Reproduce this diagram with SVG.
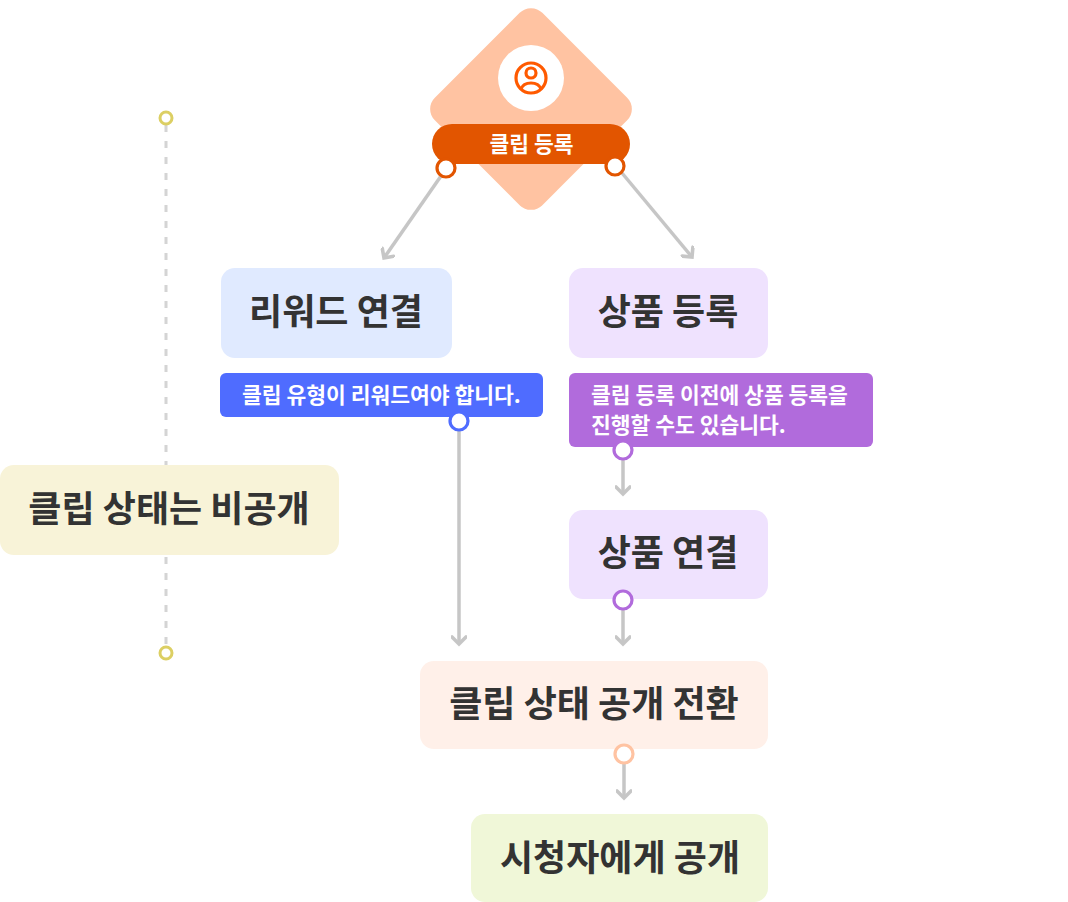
<svg xmlns="http://www.w3.org/2000/svg" width="1068" height="902" viewBox="0 0 1068 902">
<style>
text{font-family:"Noto Sans CJK KR","Noto Sans",sans-serif;}
.big{font-size:36px;font-weight:700;fill:#333333;text-anchor:middle;}
.small{font-size:21.5px;font-weight:700;fill:#ffffff;}
.line{fill:none;stroke:#c6c6c6;stroke-width:3.5;}
.dash{fill:none;stroke:#d4d4d4;stroke-width:3;stroke-dasharray:7 9;}
.dot{fill:#ffffff;stroke-width:3.2;}
</style>
<defs>
<marker id="arrow" markerUnits="userSpaceOnUse" markerWidth="20" markerHeight="16" refX="15" refY="8" orient="auto">
<path d="M8 1L15 8L8 15" fill="none" stroke="#c6c6c6" stroke-width="3.6" stroke-linecap="round"/>
</marker>
</defs>
<g id="connectors">
<path class="dash" d="M166 125V646"/>
<path class="line" marker-end="url(#arrow)" d="M441 176L384 258"/>
<path class="line" marker-end="url(#arrow)" d="M622 173L692 257"/>
<path class="line" marker-end="url(#arrow)" d="M459 431V644"/>
<path class="line" marker-end="url(#arrow)" d="M623 460V494"/>
<path class="line" marker-end="url(#arrow)" d="M623 610V644"/>
<path class="line" marker-end="url(#arrow)" d="M624 764V798"/>
</g>
<g id="start">
<rect x="455" y="33" width="152" height="152" rx="16" transform="rotate(45 531 109)" fill="#ffc3a2"/>
<circle cx="531" cy="78" r="33" fill="#ffffff"/>
<g fill="none" stroke="#ff5a00" stroke-width="3.2">
<circle cx="531" cy="78" r="15"/>
<circle cx="531" cy="73" r="5"/>
<path d="M521 89C524 81 538 81 541 89"/>
</g>
<rect x="432" y="124" width="198" height="40" rx="20" fill="#e25500"/>
<text class="small" x="531.5" y="152" text-anchor="middle">클립 등록</text>
<circle class="dot" stroke="#e25500" cx="446" cy="168" r="9"/>
<circle class="dot" stroke="#e25500" cx="615" cy="166" r="9"/>
</g>
<g id="reward">
<rect x="221" y="268" width="231" height="90" rx="14" fill="#e0eaff"/>
<text class="big" x="336" y="325">리워드 연결</text>
</g>
<g id="product-register">
<rect x="569" y="268" width="199" height="90" rx="14" fill="#efe2fe"/>
<text class="big" x="668" y="325">상품 등록</text>
</g>
<g id="reward-note">
<rect x="220" y="373" width="323" height="44" rx="6" fill="#4f6cff"/>
<text class="small" x="242" y="403">클립 유형이 리워드여야 합니다.</text>
<circle class="dot" stroke="#4f6cff" cx="459" cy="421" r="9"/>
</g>
<g id="product-note">
<rect x="569" y="373" width="304" height="74" rx="6" fill="#b16bdc"/>
<text class="small" x="591" y="403">클립 등록 이전에 상품 등록을</text>
<text class="small" x="591" y="433">진행할 수도 있습니다.</text>
<circle class="dot" stroke="#b16bdc" cx="623" cy="450" r="9"/>
</g>
<g id="private-state">
<rect x="0" y="465" width="339" height="90" rx="14" fill="#f8f3d8"/>
<text class="big" x="169" y="522">클립 상태는 비공개</text>
</g>
<g id="range-start"><circle cx="166" cy="118" r="6" fill="#ffffff" stroke="#dccf63" stroke-width="3"/></g>
<g id="range-end"><circle cx="166" cy="653" r="6" fill="#ffffff" stroke="#dccf63" stroke-width="3"/></g>
<g id="product-link">
<rect x="569" y="510" width="199" height="89" rx="14" fill="#efe2fe"/>
<text class="big" x="668" y="566">상품 연결</text>
<circle class="dot" stroke="#b16bdc" cx="623" cy="600" r="9"/>
</g>
<g id="public-switch">
<rect x="420" y="661" width="348" height="88" rx="14" fill="#fff0e9"/>
<text class="big" x="594" y="717">클립 상태 공개 전환</text>
<circle class="dot" stroke="#ffc3a2" cx="624" cy="754" r="9"/>
</g>
<g id="public">
<rect x="471" y="814" width="297" height="88" rx="14" fill="#f0f7d8"/>
<text class="big" x="620" y="871">시청자에게 공개</text>
</g>
</svg>
